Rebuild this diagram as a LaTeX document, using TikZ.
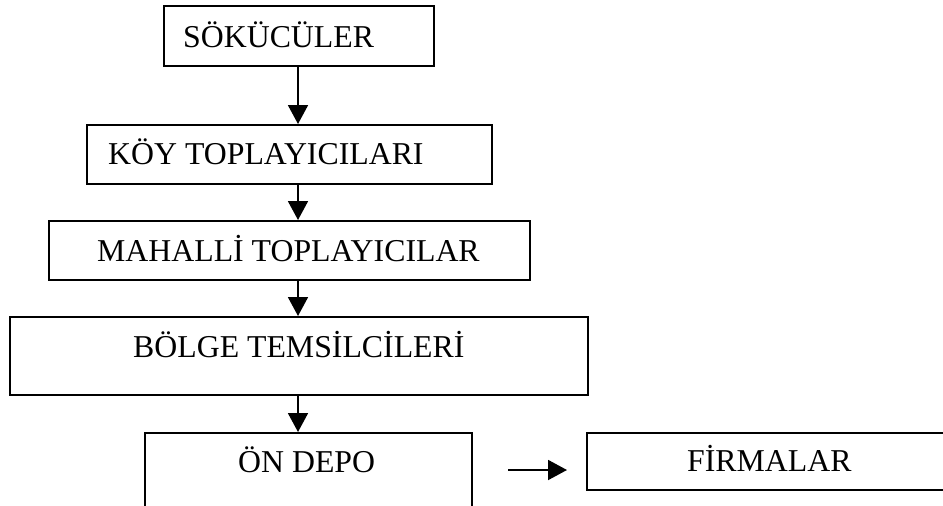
\documentclass[tikz,border=0pt]{standalone}
\usepackage{fontspec}
\setmainfont{Liberation Serif}
\usetikzlibrary{arrows.meta}
\begin{document}
\begin{tikzpicture}[x=1pt,y=1pt,
  box/.style={draw=black,line width=1.9pt,rectangle,inner sep=0pt,anchor=north west},
  lbl/.style={inner sep=0pt,anchor=base west,font=\fontsize{31.8}{36}\selectfont},
  arr/.style={line width=1.9pt,-{Triangle[length=19pt,width=20pt]}}]
\useasboundingbox (0,0) rectangle (943,-506);
\fill[white] (0,0) rectangle (943,-506);
\clip (0,0) rectangle (943,-506);
\node[box,minimum width=270pt,minimum height=60pt] (b1) at (163,-5) {};
\node[box,minimum width=405pt,minimum height=59pt] (b2) at (86,-124) {};
\node[box,minimum width=481pt,minimum height=59pt] (b3) at (48,-220) {};
\node[box,minimum width=578pt,minimum height=78pt] (b4) at (9,-316) {};
\node[box,minimum width=327pt,minimum height=110pt] (b5) at (144,-432) {};
\node[box,minimum width=370pt,minimum height=57pt] (b6) at (586,-432) {};
\node[lbl] (t1) at (183,-47) {SÖKÜCÜLER};
\node[lbl] (t2) at (108,-164) {KÖY TOPLAYICILARI};
\node[lbl] (t3) at (97,-261) {MAHALLİ TOPLAYICILAR};
\node[lbl] (t4) at (133,-357) {BÖLGE TEMSİLCİLERİ};
\node[lbl] (t5) at (238,-472) {ÖN DEPO};
\node[lbl] (t6) at (687,-471) {FİRMALAR};
\coordinate (ax) at (298,0);
\draw[arr] (b1.south -| ax) -- (b2.north -| ax);
\draw[arr] (b2.south -| ax) -- (b3.north -| ax);
\draw[arr] (b3.south -| ax) -- (b4.north -| ax);
\draw[arr] (b4.south -| ax) -- (b5.north -| ax);
\coordinate (hs) at (508,-470);
\coordinate (he) at (567,-470);
\draw[arr] (hs) -- (he);
\end{tikzpicture}
\end{document}
